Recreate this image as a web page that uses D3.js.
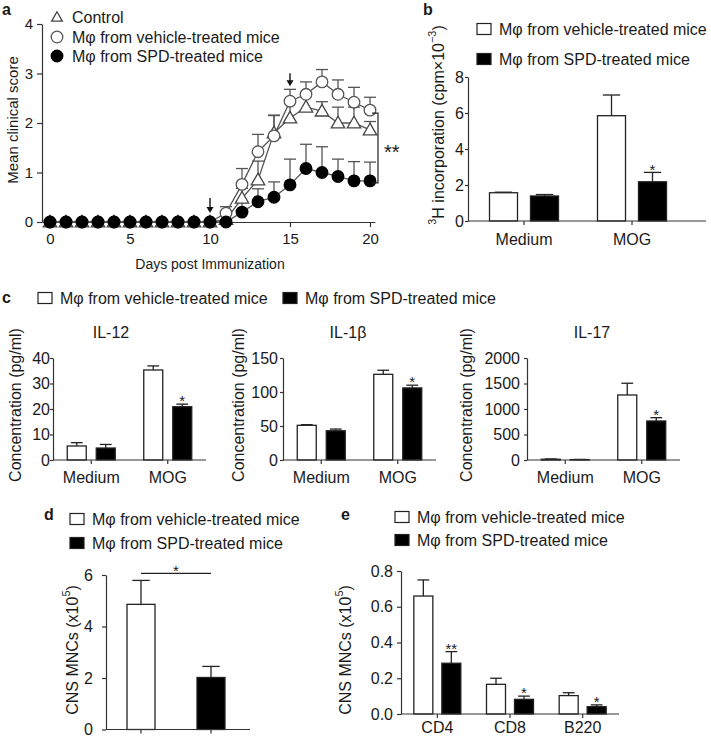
<!DOCTYPE html>
<html><head><meta charset="utf-8">
<script src="https://cdn.jsdelivr.net/npm/d3@7"></script>
<style>
body{margin:0;background:#fff}
svg{display:block;font-family:"Liberation Sans",Arial,Helvetica,sans-serif}
</style></head><body>
<svg id="fig" width="711" height="738"></svg>
<script>
// ---------------- DATA ----------------
// Panel a: EAE clinical score
const days = [0,1,2,3,4,5,6,7,8,9,10,11,12,13,14,15,16,17,18,19,20];
const dayTicks = [0,5,10,15,20];
const scoreTicks = [0,1,2,3,4];
const controlScore = [0,0,0,0,0,0,0,0,0,0,0,0.05,0.48,0.85,1.80,2.10,2.32,2.24,2.00,2.00,1.86];
const controlErr   = [0,0,0,0,0,0,0,0,0,0,0,0.10,0.20,0.38,0.35,0.30,0.25,0.19,0.32,0.32,0.17];
const vehicleScore = [0,0,0,0,0,0,0,0,0,0,0,0.18,0.76,1.42,1.74,2.44,2.58,2.83,2.58,2.42,2.26];
const vehicleErr   = [0,0,0,0,0,0,0,0,0,0,0,0.13,0.32,0.35,0.42,0.24,0.25,0.25,0.29,0.30,0.26];
const spdScore     = [0,0,0,0,0,0,0,0,0,0,0,0.00,0.20,0.41,0.50,0.75,1.08,1.00,0.92,0.83,0.83];
const spdErr       = [0,0,0,0,0,0,0,0,0,0,0,0.00,0.21,0.26,0.31,0.52,0.49,0.52,0.35,0.39,0.38];
const arrowDays = [10,15];
const seriesNames = ["Control","Mφ from vehicle-treated mice","Mφ from SPD-treated mice"];

// Panel b: 3H incorporation
const bCategories = ["Medium","MOG"];
const bVehicle = [1.57,5.85];
const bVehicleErr = [0.03,1.15];
const bSPD = [1.39,2.18];
const bSPDErr = [0.08,0.52];
const bSig = ["","*"];
const bTicks = [0,2,4,6,8];

// Panel c: cytokines
const cCategories = ["Medium","MOG"];
const cytokines = ["IL-12","IL-1β","IL-17"];
const il12Vehicle = [5.5,35.3];
const il12VehicleErr = [1.3,1.6];
const il12SPD = [4.7,20.9];
const il12SPDErr = [1.4,1.0];
const il12Ticks = [0,10,20,30,40];
const il1bVehicle = [51,126];
const il1bVehicleErr = [1,6];
const il1bSPD = [43,106];
const il1bSPDErr = [2.5,4];
const il1bTicks = [0,50,100,150];
const il17Vehicle = [15,1275];
const il17VehicleErr = [5,230];
const il17SPD = [8,765];
const il17SPDErr = [3,65];
const il17Ticks = [0,500,1000,1500,2000];
const cSig = ["","*"];

// Panel d: total CNS MNCs
const dGroups = ["vehicle","spd"];
const dValues = [4.86,2.02];
const dErr = [0.93,0.43];
const dTicks = [0,2,4,6];
const dSig = "*";

// Panel e: CNS MNC subsets
const eCategories = ["CD4","CD8","B220"];
const eVehicle = [0.66,0.166,0.103];
const eVehicleErr = [0.09,0.034,0.016];
const eSPD = [0.284,0.082,0.041];
const eSPDErr = [0.065,0.018,0.010];
const eSig = ["**","*","*"];
const eTicks = [0,0.2,0.4,0.6,0.8];

// ---------------- DRAWING ----------------
const svg = d3.select("#fig");
const INK = "#1a1a1a", AX = "#333", LINE = "#555";

function styleAxis(g, fs){
  g.selectAll("path,line").attr("stroke",AX).attr("stroke-width",1.2);
  g.selectAll("text").attr("fill",INK).style("font-size",fs+"px");
}
function txt(g,x,y,s,fs,anchor,weight){
  return g.append("text").attr("x",x).attr("y",y).attr("font-size",fs).attr("fill",INK)
    .attr("text-anchor",anchor||"start").attr("font-weight",weight||"normal").text(s);
}
function legendBox(g,x,y,filled){
  g.append("rect").attr("x",x).attr("y",y-5.5).attr("width",14).attr("height",11)
    .attr("fill",filled?"#000":"#fff").attr("stroke","#222").attr("stroke-width",1.2);
}
function legendItem(g,x,y,filled,label){
  legendBox(g,x,y,filled);
  txt(g,x+22,y,label,16).attr("dy","0.35em");
}
function vLabel(g,x,y,parts,fs){
  const t = g.append("text").attr("transform",`translate(${x},${y}) rotate(-90)`)
    .attr("text-anchor","middle").attr("dominant-baseline","central").attr("font-size",fs).attr("fill",INK);
  parts.forEach(p=>{
    const ts = t.append("tspan").text(p.t);
    if(p.sup){ ts.attr("font-size",fs*0.68).attr("dy",-fs*0.4); }
    else if(p.after){ ts.attr("dy",fs*0.4); }
  });
  return t;
}

// ===== Panel a =====
(function(){
  const g = svg.append("g");
  const x = d3.scaleLinear().domain([-0.5,20.3]).range([42,374.8]);
  const y = d3.scaleLinear().domain([0,4]).range([222,24]);
  const gx = g.append("g").attr("transform","translate(0,222)")
    .call(d3.axisBottom(x).tickValues(dayTicks).tickFormat(d3.format("d")).tickSize(5).tickPadding(6).tickSizeOuter(0));
  styleAxis(gx,15);
  const gy = g.append("g").attr("transform","translate(42,0)")
    .call(d3.axisLeft(y).tickValues(scoreTicks).tickFormat(d3.format("d")).tickSize(5).tickPadding(4).tickSizeOuter(0));
  styleAxis(gy,15);
  txt(g,210,269,"Days post Immunization",14,"middle");
  vLabel(g,12,120,[{t:"Mean clinical score"}],15);
  txt(g,2,15,"a",16,"start","bold");

  const series = [
    {vals:controlScore, errs:controlErr, shape:"tri"},
    {vals:vehicleScore, errs:vehicleErr, shape:"open"},
    {vals:spdScore, errs:spdErr, shape:"filled"}
  ];
  const line = d3.line().x((d,i)=>x(days[i])).y(d=>y(d));
  series.forEach(s=>{
    g.append("path").datum(s.vals).attr("d",line).attr("fill","none").attr("stroke",LINE).attr("stroke-width",1.3);
  });
  series.forEach(s=>{
    s.vals.forEach((v,i)=>{
      const e = s.errs[i]; if(!(e>0)) return;
      const cx = x(days[i]);
      g.append("line").attr("x1",cx).attr("x2",cx).attr("y1",y(v)).attr("y2",y(v+e)).attr("stroke",LINE).attr("stroke-width",1.3);
      g.append("line").attr("x1",cx-6).attr("x2",cx+6).attr("y1",y(v+e)).attr("y2",y(v+e)).attr("stroke",LINE).attr("stroke-width",1.3);
    });
  });
  function marker(gg,shape,cx,cy,small){
    if(shape==="tri"){
      gg.append("path").attr("d",d3.symbol().type(d3.symbolTriangle).size(small?50:78)()).attr("transform",`translate(${cx},${cy+1})`)
        .attr("fill","#fff").attr("stroke","#444").attr("stroke-width",1.3);
    } else {
      gg.append("circle").attr("cx",cx).attr("cy",cy).attr("r",5.8)
        .attr("fill",shape==="filled"?"#000":"#fff").attr("stroke",shape==="filled"?"#000":"#555").attr("stroke-width",1.3);
    }
  }
  series.forEach(s=>{ s.vals.forEach((v,i)=>marker(g,s.shape,x(days[i]),y(v))); });

  // arrows
  arrowDays.forEach(dd=>{
    const i = days.indexOf(dd);
    const top = y(Math.max(controlScore[i]+controlErr[i], vehicleScore[i]+vehicleErr[i], spdScore[i]+spdErr[i]));
    const cx = x(dd), y2 = top - (dd===10?10:4), y1 = y2 - (dd===10?14:12);
    g.append("line").attr("x1",cx).attr("x2",cx).attr("y1",y1).attr("y2",y2-3).attr("stroke","#111").attr("stroke-width",1.4);
    g.append("path").attr("d",`M${cx-3.5},${y2-5}L${cx+3.5},${y2-5}L${cx},${y2+1}Z`).attr("fill","#111");
  });

  // bracket with significance
  const last = days.length-1;
  const yTop = y(vehicleScore[last])+3, yBot = y(spdScore[last])+2;
  g.append("path").attr("d",`M372,${yTop}H378V${yBot}H372`).attr("fill","none").attr("stroke","#222").attr("stroke-width",1.2);
  txt(g,384,yTop+(yBot-yTop)/2+11,"**",20);

  // legend
  const ly = [17,37,56];
  series.forEach((s,k)=>{ marker(g,s.shape,57,ly[k],true); txt(g,72,ly[k],seriesNames[k],16).attr("dy","0.35em"); });
})();

// ===== grouped bar helper =====
function barPanel(c){
  const g = svg.append("g");
  const x = d3.scaleBand().domain(c.cats).range(c.xRange);
  const xi = d3.scaleBand().domain(["vehicle","spd"]).range(c.innerRange).paddingInner(c.innerPad);
  const y = d3.scaleLinear().domain([0,c.yMax]).range(c.yRange);
  const base = c.yRange[0];
  const rows = c.cats.map((cat,i)=>[
    {cat, key:"vehicle", v:c.vVals[i], e:c.vErr[i], sig:""},
    {cat, key:"spd", v:c.sVals[i], e:c.sErr[i], sig:c.sig[i]}
  ]).flat();
  rows.forEach(r=>{
    const bx = x(r.cat)+x.bandwidth()/2+xi(r.key), bw = xi.bandwidth(), cx = bx+bw/2;
    const top = y(r.v+r.e), cw = bw*0.62;
    g.append("line").attr("x1",cx).attr("x2",cx).attr("y1",y(r.v)).attr("y2",top).attr("stroke","#222").attr("stroke-width",1.3);
    g.append("line").attr("x1",cx-cw/2).attr("x2",cx+cw/2).attr("y1",top).attr("y2",top).attr("stroke","#222").attr("stroke-width",1.3);
    g.append("rect").attr("x",bx).attr("y",y(r.v)).attr("width",bw).attr("height",base-y(r.v))
      .attr("fill",r.key==="spd"?"#000":"#fff").attr("stroke","#222").attr("stroke-width",1.3);
    if(r.sig) txt(g,cx,top-6+0.55*15,r.sig,15,"middle");
  });
  const gy = g.append("g").attr("transform",`translate(${c.axisX},0)`)
    .call(d3.axisLeft(y).tickValues(c.yTicks).tickFormat(c.fmt||d3.format("d")).tickSize(c.tl).tickPadding(c.tp).tickSizeOuter(0));
  styleAxis(gy,16);
  const gx = g.append("g").attr("transform",`translate(0,${base})`)
    .call(d3.axisBottom(x).tickSize(4).tickPadding(c.xPad).tickSizeOuter(0));
  gx.select(".domain").remove();
  styleAxis(gx,16);
  g.append("line").attr("x1",c.axisX).attr("x2",c.xEnd).attr("y1",base).attr("y2",base).attr("stroke",AX).attr("stroke-width",1.2);
  return g;
}

// ===== Panel b =====
(function(){
  const g = barPanel({cats:bCategories, vVals:bVehicle, vErr:bVehicleErr, sVals:bSPD, sErr:bSPDErr, sig:bSig,
    yMax:8, yTicks:bTicks, yRange:[221,77], xRange:[470,686], innerRange:[-34.5,34.5], innerPad:0.317,
    axisX:468, xEnd:706, tl:3, tp:1, xPad:9});
  txt(g,423,15,"b",16,"start","bold");
  vLabel(g,438,125,[{t:"3",sup:true},{t:"H incorporation (cpm×10",after:true},{t:"−3",sup:true},{t:")",after:true}],16);
  legendItem(g,477,29,false,seriesNames[1]);
  legendItem(g,477,59,true,seriesNames[2]);
})();

// ===== Panel c =====
(function(){
  const cfg = [
    {v:il12Vehicle, ve:il12VehicleErr, s:il12SPD, se:il12SPDErr, max:40, ticks:il12Ticks, x0:53, tp:0, lx:15, tx:111},
    {v:il1bVehicle, ve:il1bVehicleErr, s:il1bSPD, se:il1bSPDErr, max:150, ticks:il1bTicks, x0:283, tp:2, lx:238, tx:348},
    {v:il17Vehicle, ve:il17VehicleErr, s:il17SPD, se:il17SPDErr, max:2000, ticks:il17Ticks, x0:527, tp:4, lx:466, tx:592}
  ];
  cfg.forEach((k,i)=>{
    const g = barPanel({cats:cCategories, vVals:k.v, vErr:k.ve, sVals:k.s, sErr:k.se, sig:cSig,
      yMax:k.max, yTicks:k.ticks, yRange:[460,358], xRange:[k.x0,k.x0+153], innerRange:[-24,24], innerPad:0.345,
      axisX:k.x0, xEnd:k.x0+153, tl:3, tp:k.tp, xPad:8});
    txt(g,k.tx,338,cytokines[i],16,"middle");
    vLabel(g,k.lx,405,[{t:"Concentration (pg/ml)"}],16);
  });
  const g = svg.append("g");
  txt(g,2,303,"c",16,"start","bold");
  legendItem(g,38,298,false,seriesNames[1]);
  legendItem(g,283,298,true,seriesNames[2]);
})();

// ===== Panel d =====
(function(){
  const g = svg.append("g");
  const base = 729.5;
  const x = d3.scaleBand().domain(dGroups).range([106,246]).paddingInner(0.6).paddingOuter(0.3);
  const y = d3.scaleLinear().domain([0,6]).range([base,575]);
  dGroups.forEach((k,i)=>{
    const bx = x(k), bw = x.bandwidth(), cx = bx+bw/2, top = y(dValues[i]+dErr[i]), cw = bw*0.62;
    g.append("line").attr("x1",cx).attr("x2",cx).attr("y1",y(dValues[i])).attr("y2",top).attr("stroke","#222").attr("stroke-width",1.3);
    g.append("line").attr("x1",cx-cw/2).attr("x2",cx+cw/2).attr("y1",top).attr("y2",top).attr("stroke","#222").attr("stroke-width",1.3);
    g.append("rect").attr("x",bx).attr("y",y(dValues[i])).attr("width",bw).attr("height",base-y(dValues[i]))
      .attr("fill",k==="spd"?"#000":"#fff").attr("stroke","#222").attr("stroke-width",1.3);
  });
  const gy = g.append("g").attr("transform","translate(106,0)")
    .call(d3.axisLeft(y).tickValues(dTicks).tickFormat(d3.format("d")).tickSize(4).tickPadding(9).tickSizeOuter(0));
  styleAxis(gy,16);
  const gx = g.append("g").attr("transform",`translate(0,${base})`)
    .call(d3.axisBottom(x).tickSize(4).tickFormat("").tickSizeOuter(0));
  gx.select(".domain").remove();
  styleAxis(gx,16);
  g.append("line").attr("x1",106).attr("x2",250).attr("y1",base).attr("y2",base).attr("stroke",AX).attr("stroke-width",1.2);
  const c1 = x(dGroups[0])+x.bandwidth()/2, c2 = x(dGroups[1])+x.bandwidth()/2;
  const sy = y(dValues[0]+dErr[0]) - 7;
  g.append("line").attr("x1",c1).attr("x2",c2).attr("y1",sy).attr("y2",sy).attr("stroke","#222").attr("stroke-width",1.2);
  txt(g,(c1+c2)/2,sy-6+0.55*15,dSig,15,"middle");
  txt(g,44,520,"d",16,"start","bold");
  vLabel(g,72,650,[{t:"CNS MNCs (x10"},{t:"5",sup:true},{t:")",after:true}],16);
  legendItem(g,70,519,false,seriesNames[1]);
  legendItem(g,70,543,true,seriesNames[2]);
})();

// ===== Panel e =====
(function(){
  const g = barPanel({cats:eCategories, vVals:eVehicle, vErr:eVehicleErr, sVals:eSPD, sErr:eSPDErr, sig:eSig,
    yMax:0.8, yTicks:eTicks, yRange:[714,571], xRange:[401,619], innerRange:[-23.5,23.5], innerPad:0.321,
    axisX:401, xEnd:619, tl:4, tp:4, xPad:4, fmt:d3.format(".1f")});
  txt(g,341,520,"e",16,"start","bold");
  vLabel(g,345,650,[{t:"CNS MNCs (x10"},{t:"5",sup:true},{t:")",after:true}],16);
  legendItem(g,395,517,false,seriesNames[1]);
  legendItem(g,395,540,true,seriesNames[2]);
})();
</script>
</body></html>
